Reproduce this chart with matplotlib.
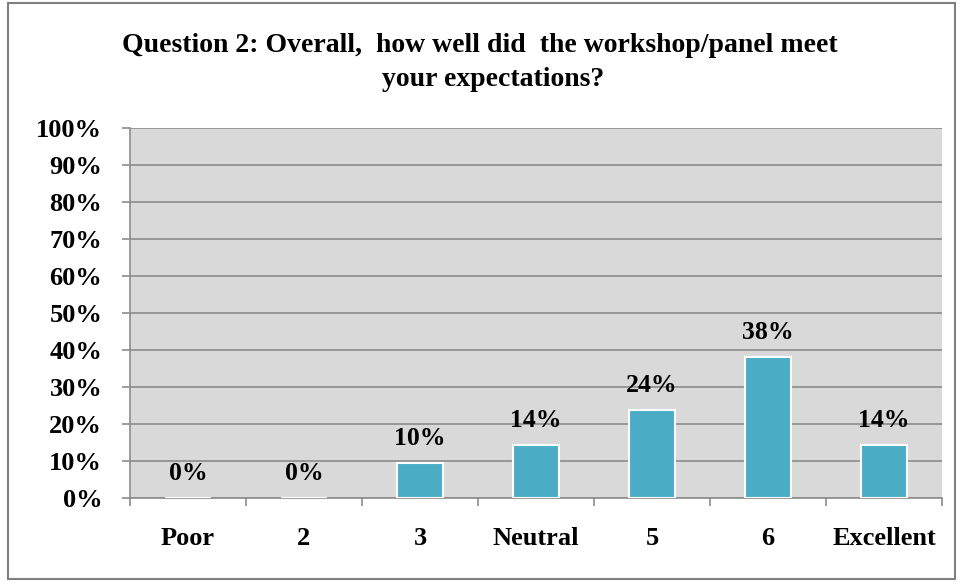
import matplotlib
matplotlib.use("Agg")
import matplotlib.pyplot as plt
from matplotlib.patches import Rectangle
import numpy as np

categories = ["Poor", "2", "3", "Neutral", "5", "6", "Excellent"]
values = [0.0, 0.0, 9.52, 14.29, 23.81, 38.10, 14.29]
yticks = list(range(0, 101, 10))
title_lines = ["Question 2: Overall,  how well did  the workshop/panel meet",
               "your expectations?"]

plt.rcParams['font.family'] = ['Liberation Serif', 'DejaVu Serif']
plt.rcParams['font.weight'] = 'bold'

fig = plt.figure(figsize=(9.6, 5.82), dpi=100)
W, H = 960, 582
ax = fig.add_axes([130 / W, (H - 498) / H, (942 - 130) / W, (498 - 128) / H])
ax.set_facecolor('#d9d9d9')

x = np.arange(len(categories))
ax.bar(x, values, width=0.4, color='#4bacc6', edgecolor='white', linewidth=1.5, zorder=3)
for xi, v in zip(x, values):
    ax.annotate(f"{v:.0f}%", (xi, v), xytext=(0, 13), textcoords='offset points',
                ha='center', va='baseline', fontsize=18.5, fontweight='bold', color='black', zorder=4)

ax.set_xlim(-0.5, len(categories) - 0.5)
ax.set_ylim(0, 100)
ax.set_yticks(yticks)
ax.set_yticklabels([f"{t}%" for t in yticks])
ax.yaxis.grid(True, color='#8c8c8c', linewidth=1.2, zorder=0)
ax.set_axisbelow(True)

ax.set_xticks(x)
ax.set_xticklabels(categories)
ax.set_xticks(np.arange(-0.5, len(categories)), minor=True)
ax.tick_params(axis='x', which='major', length=0, pad=21, labelsize=19)
ax.tick_params(axis='x', which='minor', length=6, color='#8c8c8c', width=1.2)
ax.tick_params(axis='y', length=6, color='#8c8c8c', width=1.2, pad=14, labelsize=19)
for lbl in ax.get_xticklabels() + ax.get_yticklabels():
    lbl.set_fontweight('bold')

for s in ['top', 'right']:
    ax.spines[s].set_visible(False)
for s in ['left', 'bottom']:
    ax.spines[s].set_color('#8c8c8c')
    ax.spines[s].set_linewidth(1.2)

fig.text(480 / W, 1 - 52 / H, title_lines[0], ha='center', va='baseline', fontsize=20,
         fontweight='bold')
fig.text(493 / W, 1 - 86 / H, title_lines[1], ha='center', va='baseline', fontsize=20,
         fontweight='bold')

border = Rectangle((8 / W, 3 / H), (955 - 8) / W, (579 - 3) / H, transform=fig.transFigure,
                   fill=False, edgecolor='#7f7f7f', linewidth=1.5)
fig.patches.append(border)

fig.savefig("out.png", dpi=100)
